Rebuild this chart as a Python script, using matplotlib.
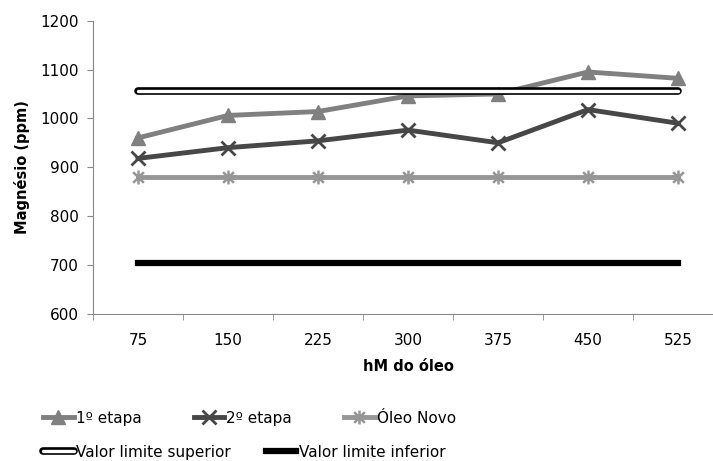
import numpy as np
import matplotlib.pyplot as plt
from matplotlib.path import Path
import matplotlib.patheffects as pe

plt.rcParams['font.family'] = ['DejaVu Sans']

# dados
horas = ["75", "150", "225", "300", "375", "450", "525"]
etapa1 = [960, 1006, 1014, 1046, 1050, 1095, 1082]
etapa2 = [918, 940, 954, 976, 950, 1018, 990]
oleo_novo = [880, 880, 880, 880, 880, 880, 880]
lim_sup = [1056, 1056, 1056, 1056, 1056, 1056, 1056]
lim_inf = [703, 703, 703, 703, 703, 703, 703]

x = np.arange(len(horas))

# marcador asterisco (x + barra vertical)
asterisco = Path([(-1, -1), (1, 1), (-1, 1), (1, -1), (0, -1.3), (0, 1.3)],
                 [Path.MOVETO, Path.LINETO, Path.MOVETO, Path.LINETO, Path.MOVETO, Path.LINETO])

W, H = 713, 461
fig = plt.figure(figsize=(W / 100, H / 100), dpi=100)
ax = fig.add_axes([93 / W, 1 - 313.7 / H, 630 / W, 293 / H])

l1, = ax.plot(x, etapa1, color="#808080", lw=3.5, marker="^", ms=10, label="1º etapa")
l2, = ax.plot(x, etapa2, color="#474747", lw=3.5, marker="x", ms=10, mew=2, label="2º etapa")
l3, = ax.plot(x, oleo_novo, color="#969696", lw=3.5, marker=asterisco, ms=10, mew=1.8, label="Óleo Novo")
l4, = ax.plot(x, lim_sup, color="white", lw=2.4, solid_capstyle="round", label="Valor limite superior",
              path_effects=[pe.Stroke(linewidth=5.5, foreground="black", capstyle="round"), pe.Normal()])
l5, = ax.plot(x, lim_inf, color="black", lw=4.5, label="Valor limite inferior")

ax.set_xlim(-0.5, 6.5)
ax.set_ylim(600, 1200)
ax.set_yticks(np.arange(600, 1201, 100))
ax.set_xticks(x)
ax.set_xticklabels(horas)
ax.set_xticks(np.arange(-0.5, 7, 1), minor=True)
ax.tick_params(axis="x", which="major", length=0, labelsize=11, pad=14)
ax.tick_params(axis="x", which="minor", length=4, color="#888888", direction="out")
ax.tick_params(axis="y", length=4, color="#888888", labelsize=11, pad=6)

for s in ["top", "right"]:
    ax.spines[s].set_visible(False)
for s in ["left", "bottom"]:
    ax.spines[s].set_color("#888888")

ax.set_xlabel("hM do óleo", fontsize=10.5, fontweight="bold", labelpad=8)
ax.set_ylabel("Magnésio (ppm)", fontsize=10.5, fontweight="bold", labelpad=8)

fig.legend(handles=[l1, l2, l3], loc="center left", bbox_to_anchor=(43 / W, 1 - 418 / H),
           ncol=3, frameon=False, fontsize=11, handlelength=2.0, handletextpad=0.15,
           columnspacing=3.4, borderpad=0, borderaxespad=0)
fig.legend(handles=[l4, l5], loc="center left", bbox_to_anchor=(43 / W, 1 - 452 / H),
           ncol=2, frameon=False, fontsize=11, handlelength=2.0, handletextpad=0.15,
           columnspacing=2.3, borderpad=0, borderaxespad=0)

fig.savefig("out.png", dpi=100)
